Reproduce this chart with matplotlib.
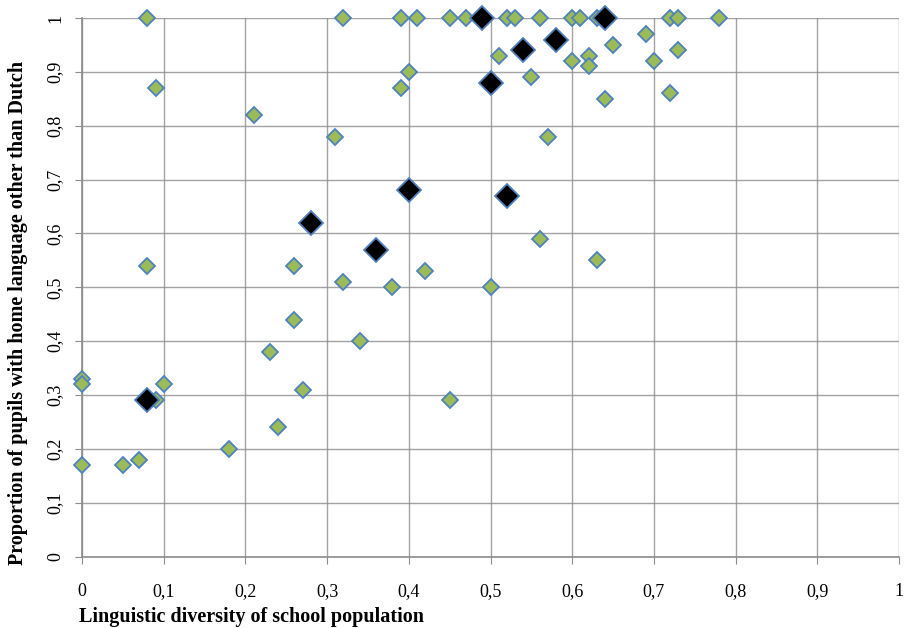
import numpy as np
import matplotlib
matplotlib.use('Agg')
import matplotlib.pyplot as plt
from matplotlib.ticker import FuncFormatter

# schools (green diamonds)
x_green = [0.08, 0.32, 0.39, 0.41, 0.45, 0.47, 0.52, 0.53, 0.56, 0.60, 0.61, 0.63, 0.72, 0.73, 0.78,
           0.09, 0.21, 0.31, 0.39, 0.40, 0.51, 0.55, 0.57, 0.60, 0.62, 0.62, 0.64, 0.65, 0.69, 0.70, 0.72, 0.73,
           0.08, 0.26, 0.32, 0.38, 0.42, 0.50, 0.56, 0.63, 0.26, 0.34, 0.23,
           0.00, 0.00, 0.10, 0.09, 0.27, 0.45, 0.24, 0.18, 0.00, 0.05, 0.07]
y_green = [1.00, 1.00, 1.00, 1.00, 1.00, 1.00, 1.00, 1.00, 1.00, 1.00, 1.00, 1.00, 1.00, 1.00, 1.00,
           0.87, 0.82, 0.78, 0.87, 0.90, 0.93, 0.89, 0.78, 0.92, 0.93, 0.91, 0.85, 0.95, 0.97, 0.92, 0.86, 0.94,
           0.54, 0.54, 0.51, 0.50, 0.53, 0.50, 0.59, 0.55, 0.44, 0.40, 0.38,
           0.33, 0.32, 0.32, 0.29, 0.31, 0.29, 0.24, 0.20, 0.17, 0.17, 0.18]

# highlighted schools (black diamonds)
x_black = [0.49, 0.64, 0.58, 0.54, 0.50, 0.40, 0.52, 0.28, 0.36, 0.08]
y_black = [1.00, 1.00, 0.96, 0.94, 0.88, 0.68, 0.67, 0.62, 0.57, 0.29]

ticks = np.arange(0, 11) / 10

W, H = 906, 628
fig = plt.figure(figsize=(W / 100, H / 100), dpi=100)
ax = fig.add_axes([82 / W, (H - 556.7) / H, (899 - 82) / W, (556.7 - 18) / H])

grid_col = '#8c8c8c'
edge_col = '#4f81bd'

ax.plot(x_green, y_green, 'D', ms=8, mfc='#9bbb59', mec=edge_col, mew=1.3,
        linestyle='none', clip_on=False, zorder=3)
ax.plot(x_black, y_black, 'D', ms=12, mfc='black', mec=edge_col, mew=1.3,
        linestyle='none', clip_on=False, zorder=4)

ax.set_xlim(0, 1)
ax.set_ylim(0, 1)
ax.set_xticks(ticks)
ax.set_yticks(ticks)
fmt = FuncFormatter(lambda v, p: ('%g' % round(v, 1)).replace('.', ','))
ax.xaxis.set_major_formatter(fmt)
ax.yaxis.set_major_formatter(fmt)
ax.grid(True, color=grid_col, lw=1, alpha=0.8)
ax.set_axisbelow(True)

for s in ['top', 'right']:
    ax.spines[s].set_visible(False)
for s in ['left', 'bottom']:
    ax.spines[s].set_color(grid_col)
    ax.spines[s].set_linewidth(1.2)

ax.tick_params(axis='both', direction='out', length=5, color=grid_col, labelsize=13)
ax.tick_params(axis='x', pad=14)
ax.tick_params(axis='y', pad=8)
for lab in ax.get_xticklabels() + ax.get_yticklabels():
    lab.set_family('Liberation Serif')
for lab in ax.get_yticklabels():
    lab.set_rotation(90)
    lab.set_va('center')

fig.text(79 / W, 1 - 617 / H, 'Linguistic diversity of school population',
         family='Liberation Serif', weight='bold', fontsize=14.5, ha='left', va='center')
fig.text(18 / W, 1 - 313 / H, 'Proportion of pupils with home language other than Dutch',
         family='Liberation Serif', weight='bold', fontsize=14.5, rotation=90,
         ha='center', va='center')

fig.savefig('out.png', dpi=100)
